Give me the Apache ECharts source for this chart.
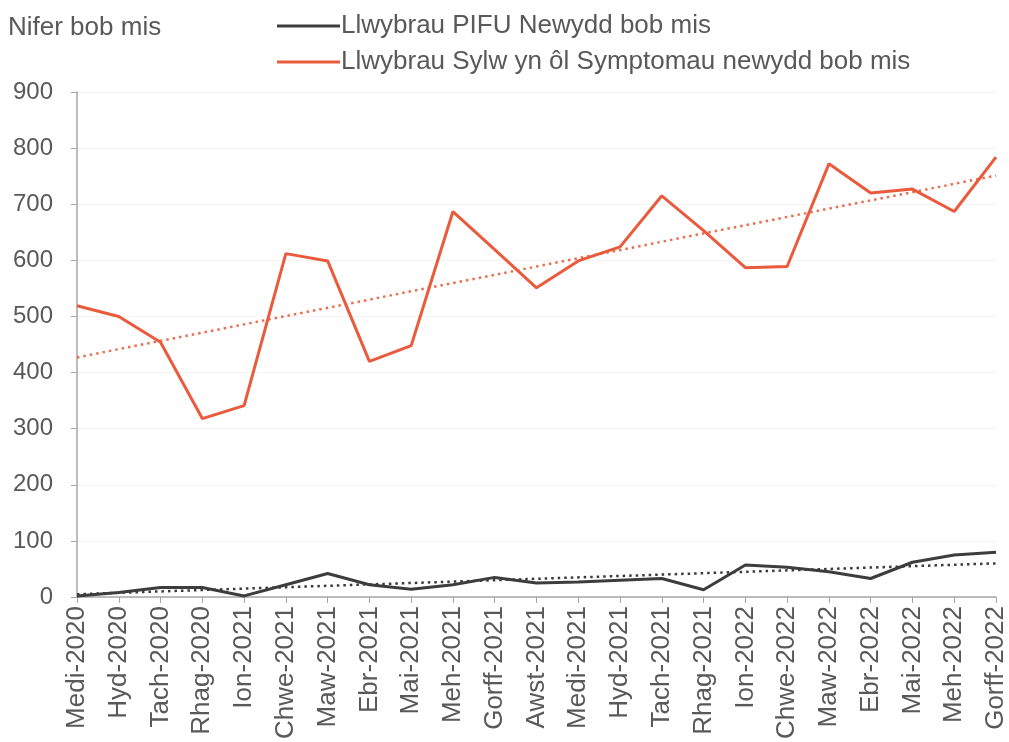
<!DOCTYPE html>
<html><head><meta charset="utf-8">
<script src="https://cdn.jsdelivr.net/npm/echarts@6/dist/echarts.min.js"></script>
<style>html,body{margin:0;padding:0;background:#fff}#c{width:1009px;height:742px}</style>
</head><body><div id="c"></div>
<script>
const categories = ["Medi-2020","Hyd-2020","Tach-2020","Rhag-2020","Ion-2021","Chwe-2021","Maw-2021","Ebr-2021","Mai-2021","Meh-2021","Gorff-2021","Awst-2021","Medi-2021","Hyd-2021","Tach-2021","Rhag-2021","Ion-2022","Chwe-2022","Maw-2022","Ebr-2022","Mai-2022","Meh-2022","Gorff-2022"];
const pifu = [2,8,17,17,2,22,42,22,14,22,35,25,27,30,33,13,57,53,45,33,62,75,80];
const symptoms = [519,500,454,318,341,612,599,420,448,687,619,551,599,624,715,653,587,589,772,720,727,687,784];
const pifuTrend = [5,60];        // trend line start / end values
const symptomsTrend = [427,751]; // trend line start / end values
const yTicks = [0,100,200,300,400,500,600,700,800,900];
const seriesNames = ["Llwybrau PIFU Newydd bob mis","Llwybrau Sylw yn ôl Symptomau newydd bob mis"];
const yTitle = "Nifer bob mis";

const last = categories.length - 1;
const chart = echarts.init(document.getElementById('c'), null, {renderer:'canvas'});
const txt = '#595959';
const font = 'Liberation Sans, Arial, sans-serif';
chart.setOption({
  animation:false,
  backgroundColor:'#fff',
  textStyle:{fontFamily:font},
  graphic:[{type:'text', left:8, top:15, style:{text:yTitle, fill:txt, font:'26px '+font}}],
  legend:{
    orient:'vertical', left:272, top:8, itemWidth:63, itemHeight:3, itemGap:10,
    icon:'rect', data:seriesNames,
    textStyle:{color:txt, fontSize:26, fontFamily:font, padding:[0,0,0,-4]}
  },
  grid:{left:77, right:13, top:92, bottom:144, containLabel:false},
  xAxis:{
    type:'category', data:categories, boundaryGap:false,
    axisLine:{lineStyle:{color:'#a6a6a6', width:1.5}},
    axisTick:{alignWithLabel:true, length:6, lineStyle:{color:'#a6a6a6'}},
    axisLabel:{rotate:90, color:txt, fontSize:26, fontFamily:font, margin:9, interval:0},
    splitLine:{show:false}
  },
  yAxis:{
    type:'value', min:yTicks[0], max:yTicks[yTicks.length-1], interval:100,
    axisLine:{show:true, lineStyle:{color:'#a6a6a6', width:1.5}},
    axisTick:{show:true, length:6, lineStyle:{color:'#a6a6a6'}},
    axisLabel:{color:txt, fontSize:24, fontFamily:font, margin:24},
    splitLine:{show:true, lineStyle:{color:'#f4f4f4', width:1}}
  },
  series:[
    {name:seriesNames[1]+' trend', type:'line', symbol:'none', silent:true,
     data:[[0,symptomsTrend[0]],[last,symptomsTrend[1]]],
     lineStyle:{color:'#e8704f', width:2.5, type:[2.5,4]}, z:2},
    {name:seriesNames[0]+' trend', type:'line', symbol:'none', silent:true,
     data:[[0,pifuTrend[0]],[last,pifuTrend[1]]],
     lineStyle:{color:'#3a3a3a', width:2.5, type:[2.5,4]}, z:2},
    {name:seriesNames[0], type:'line', symbol:'none', data:pifu,
     itemStyle:{color:'#3d3d3d'}, lineStyle:{color:'#3d3d3d', width:3}, z:3},
    {name:seriesNames[1], type:'line', symbol:'none', data:symptoms,
     itemStyle:{color:'#ea5a3c'}, lineStyle:{color:'#ea5a3c', width:3}, z:3}
  ]
});
</script></body></html>
